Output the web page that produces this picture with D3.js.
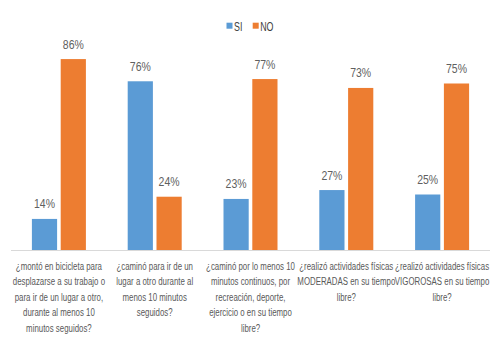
<!DOCTYPE html>
<html><head><meta charset="utf-8">
<script src="https://cdn.jsdelivr.net/npm/d3@7"></script>
<style>body{margin:0;background:#fff}svg{display:block}</style>
</head><body>
<svg id="c" width="496" height="341"></svg>
<script>
const categories = [
  ["¿montó en bicicleta para","desplazarse a su trabajo o","para ir de un lugar a otro,","durante al menos 10","minutos seguidos?"],
  ["¿caminó para ir de un","lugar a otro durante al","menos 10 minutos","seguidos?"],
  ["¿caminó por lo menos 10","minutos continuos, por","recreación, deporte,","ejercicio o en su tiempo","libre?"],
  ["¿realizó actividades físicas","MODERADAS en su tiempo","libre?"],
  ["¿realizó actividades físicas","VIGOROSAS en su tiempo","libre?"]
];
const seriesNames = ["SI","NO"];
const siValues = [14,76,23,27,25];
const noValues = [86,24,77,73,75];
const colors = ["#5B9BD5","#ED7D31"];
const font = "'Liberation Sans',Arial,sans-serif";

const svg = d3.select("#c");
const x0 = d3.scaleBand().domain(d3.range(categories.length)).range([11,490]);
const x1 = d3.scaleBand().domain(seriesNames).range([0, 54]).paddingInner(0.125).paddingOuter(0);
const y = d3.scaleLinear().domain([0,100]).range([250,28]);
const series = [siValues, noValues];

const g = svg.append("g");
categories.forEach((c,i)=>{
  const gx = x0(i) + (x0.bandwidth()-54)/2;
  seriesNames.forEach((s,j)=>{
    const v = series[j][i];
    g.append("rect").attr("x", gx + x1(s)).attr("y", y(v))
      .attr("width", x1.bandwidth()).attr("height", y(0)-y(v)).attr("fill", colors[j]);
    g.append("text")
      .attr("transform", `translate(${gx + x1(s) + x1.bandwidth()/2},${y(v)-10.5}) scale(0.84,1)`)
      .attr("text-anchor","middle").attr("font-family",font).attr("font-size",12.5)
      .attr("fill","#606060").text(v+"%");
  });
  const cx = x0(i)+x0.bandwidth()/2;
  const t = g.append("text").attr("font-family",font).attr("font-size",11.5).attr("fill","#595959")
    .attr("text-anchor","middle").attr("transform",`translate(${cx},270) scale(0.685,1)`);
  c.forEach((line,k)=>{
    t.append("tspan").attr("x", 0).attr("y", k*15.5).text(line);
  });
});
svg.append("line").attr("x1",11).attr("x2",490).attr("y1",250.5).attr("y2",250.5)
  .attr("stroke","#d9d9d9").attr("stroke-width",1);

const leg = svg.append("g");
const legX = [226.5, 252.7];
seriesNames.forEach((s,j)=>{
  leg.append("rect").attr("x",legX[j]).attr("y",22.7).attr("width",6).attr("height",6).attr("fill",colors[j]);
  leg.append("text").attr("transform",`translate(${legX[j]+7.5},30.7) scale(0.74,1)`)
    .attr("font-family",font).attr("font-size",12)
    .attr("fill","#404040").text(s);
});
</script>
</body></html>
